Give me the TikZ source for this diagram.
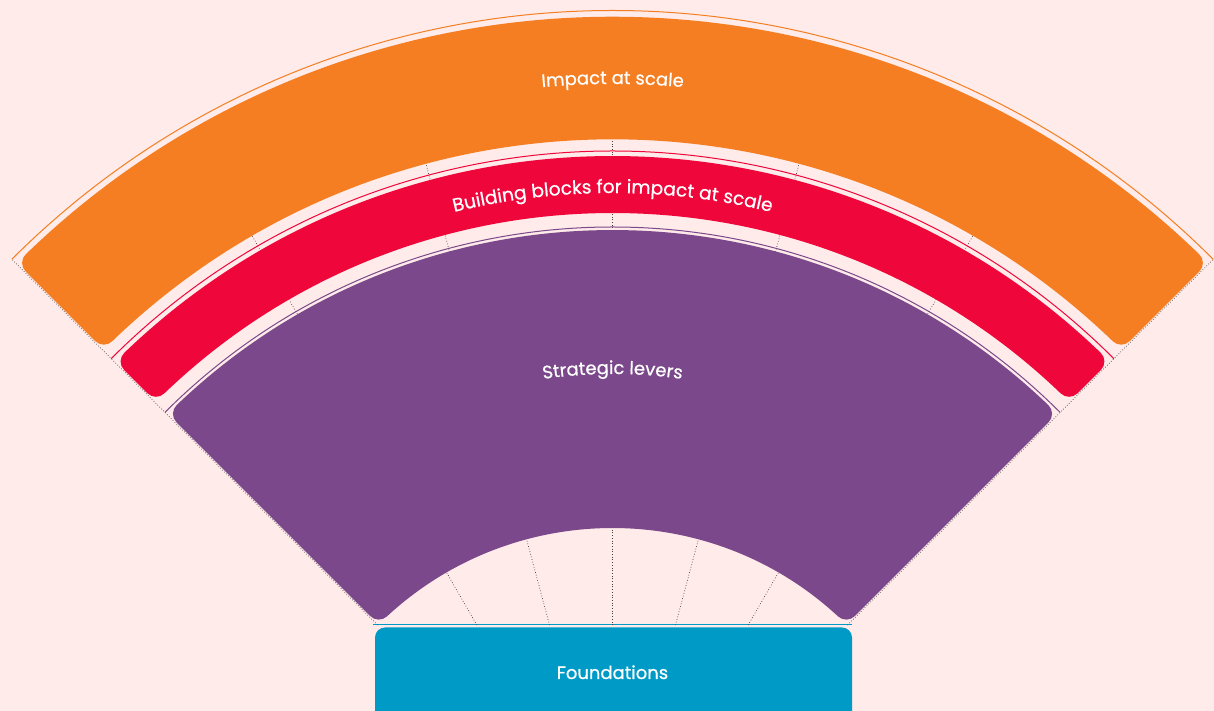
\documentclass[tikz,border=0pt]{standalone}
\usepackage{fontspec}
\setmainfont{Poppins}
\newfontfamily\pmed{Poppins}[FakeBold=0.6]
\usetikzlibrary{decorations.text}
\definecolor{bg}{HTML}{FFEBE9}
\definecolor{forange}{HTML}{F47E21}
\definecolor{fred}{HTML}{EF073C}
\definecolor{fpurple}{HTML}{7B498B}
\definecolor{fblue}{HTML}{009AC7}
\newcommand\fanband[5]{%
 \pgfmathsetmacro\fbri{#1+#4}%
 \pgfmathsetmacro\fbro{#2-#4}%
 \pgfmathsetmacro\fbd{#3+#4}%
 \pgfmathsetmacro\fbaol{135-asin(\fbd/\fbro)}%
 \pgfmathsetmacro\fbaor{45+asin(\fbd/\fbro)}%
 \pgfmathsetmacro\fbail{135-asin(\fbd/\fbri)}%
 \pgfmathsetmacro\fbair{45+asin(\fbd/\fbri)}%
 \pgfmathsetmacro\fblw{2*#4}%
 \path[fill=#5,draw=#5,line width=\fblw pt,line join=round] (\fbaol:\fbro) arc[start angle=\fbaol,end angle=\fbaor,radius=\fbro] -- (\fbair:\fbri) arc[start angle=\fbair,end angle=\fbail,radius=\fbri] -- cycle;}
\tikzset{
 dotline/.style={dotted, line width=0.7pt, black!75},
 thinarc/.style={line width=1pt},
 bandtext/.style 2 args={decorate, decoration={text along path, text align=center, text={|\color{white}\pmed\fontsize{#1}{20}\selectfont|#2}}},
 lbl/.style={text=white, font=\pmed\fontsize{18}{20}\selectfont, inner sep=0pt}
}
\begin{document}
\begin{tikzpicture}[x=1pt,y=1pt]
\useasboundingbox (0,0) rectangle (1214,711);
\clip (0,0) rectangle (1214,711);
\fill[bg] (0,0) rectangle (1214,711);
% foundations
\fill[fblue, rounded corners=10pt] (375,83.5) rectangle (852,-30);
\draw[fblue, line width=1pt] (373,86) -- (852,86);
\node[lbl, anchor=base] (found) at (612.5,32) {Foundations};
\begin{scope}[shift={(612.5,-149)}]
 \foreach \a in {60,75,...,120} {
  \pgfmathsetmacro\rs{235/sin(\a)}
  \draw[dotline] (\a:\rs) -- (\a:724);
 }
 \foreach \a in {45,135} {
  \draw[dotline] (\a:332.3) -- (\a:849.5);
 }
 \draw[thinarc, forange] (135:849.5) arc[start angle=135, end angle=45, radius=849.5];
 \draw[thinarc, fred] (135:709) arc[start angle=135, end angle=45, radius=709];
 \draw[thinarc, fpurple] (135:633) arc[start angle=135, end angle=45, radius=633];
 \fanband{720.7}{843.3}{1.2}{12}{forange}
 \fanband{647}{704}{1.2}{12}{fred}
 \fanband{332}{630}{1.2}{12}{fpurple}
 \path[bandtext={18}{Impact at scale}] (135:776) arc[start angle=135, end angle=45, radius=776];
 \path[bandtext={18.6}{Building blocks for impact at scale}] (135:667) arc[start angle=135, end angle=45, radius=667];
 \path[bandtext={18}{Strategic levers}] (135:486) arc[start angle=135, end angle=45, radius=486];
\end{scope}
\end{tikzpicture}
\end{document}
